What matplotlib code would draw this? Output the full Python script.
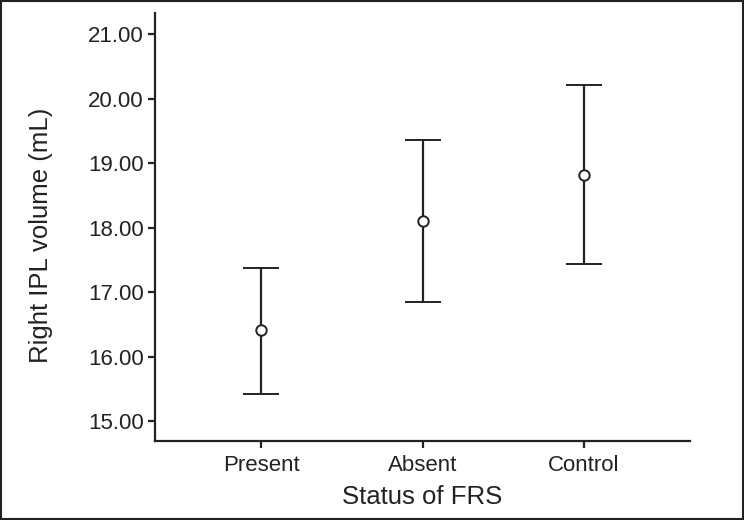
import numpy as np
import matplotlib.pyplot as plt
from matplotlib.patches import Rectangle

plt.rcParams['font.family'] = ['Liberation Sans', 'DejaVu Sans']

groups = ['Present', 'Absent', 'Control']
means = [16.41, 18.10, 18.81]
upper = [17.38, 19.36, 20.22]
lower = [15.42, 16.84, 17.43]
yticks = [15, 16, 17, 18, 19, 20, 21]

fig = plt.figure(figsize=(7.44, 5.2), dpi=100)
ax = fig.add_axes([155 / 744, 1 - 441 / 520, (690 - 155) / 744, (441 - 13) / 520])

x = np.arange(1, len(groups) + 1)
m = np.array(means)
err = [m - np.array(lower), np.array(upper) - m]
ax.errorbar(x, m, yerr=err, fmt='o', color='#222222', mfc='white', mec='#222222',
            ms=7.5, mew=1.4, ecolor='#222222', elinewidth=1.6, capsize=13.3, capthick=1.6)

ax.set_xlim(0.34, 3.66)
ax.set_ylim(14.69, 21.33)
ax.set_xticks(x)
ax.set_xticklabels(groups)
ax.set_yticks(yticks)
ax.set_yticklabels([f'{v:.2f}' for v in yticks])

for side in ['top', 'right']:
    ax.spines[side].set_visible(False)
for side in ['left', 'bottom']:
    ax.spines[side].set_linewidth(1.6)
    ax.spines[side].set_color('#222222')

ax.tick_params(axis='both', labelsize=16, width=1.6, length=5, color='#222222', labelcolor='#222222')
ax.tick_params(axis='y', pad=3)
ax.tick_params(axis='x', pad=5)
ax.set_xlabel('Status of FRS', fontsize=18.5, color='#222222')
ax.set_ylabel('Right IPL volume (mL)', fontsize=18.5, color='#222222')
ax.xaxis.set_label_coords(0.5, -0.103)
ax.yaxis.set_label_coords(-0.19, 0.48)

# thin frame round the whole picture
fig.patches.append(Rectangle((0.001, 0.002), 0.997, 0.996, transform=fig.transFigure,
                             fill=False, lw=1.5, ec='#222222'))

fig.savefig('out.png', dpi=100)
